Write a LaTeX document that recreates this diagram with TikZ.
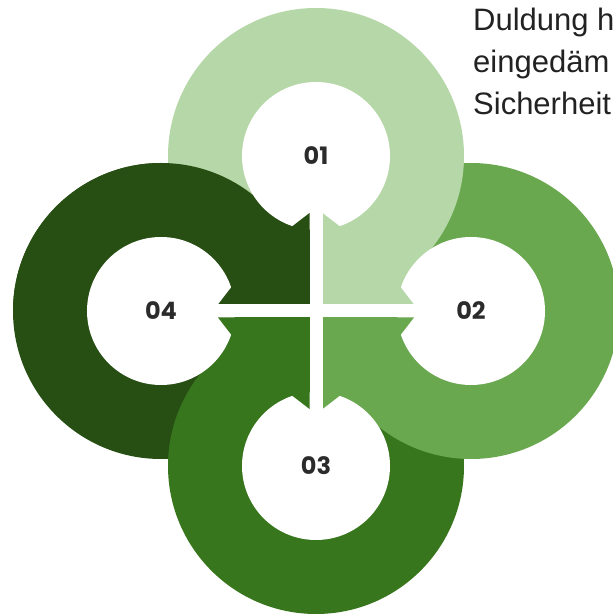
\documentclass[tikz,border=0pt]{standalone}
\usepackage{fontspec}
\setmainfont{Liberation Sans}
\newfontfamily\numfont{Poppins}
\definecolor{ringA}{HTML}{B6D7A8}
\definecolor{ringB}{HTML}{6AA84F}
\definecolor{ringC}{HTML}{38761D}
\definecolor{ringD}{HTML}{274E13}
\definecolor{labelgray}{HTML}{2B2B2B}
\definecolor{notegray}{HTML}{222222}

\begin{document}
\begin{tikzpicture}[x=1pt,y=1pt,
  num/.style={font=\numfont\bfseries\fontsize{24}{24}\selectfont,
    text=labelgray, inner sep=0pt},
  note/.style={font=\fontsize{31}{42}\selectfont, text=notegray,
    align=left, anchor=north west, inner sep=0pt}]
\useasboundingbox (0,0) rectangle (613,616);
\clip (0,0) rectangle (613,616);

\begin{scope}[shift={(316,305)}]
  \def\R{148}  % outer ring radius
  \def\r{74}   % inner (white) radius
  \def\g{6.5}  % half width of the white cross
  \coordinate (c1) at (0,155);
  \coordinate (c2) at (155,0);
  \coordinate (c3) at (0,-155);
  \coordinate (c4) at (-155,0);

  % rings, back to front: 01 over 02 over 03 over 04
  \fill[ringD] (c4) circle (\R);
  \fill[ringC] (c3) circle (\R);
  \fill[ringB] (c2) circle (\R);
  \fill[ringA] (c1) circle (\R);
  % ring 04 lies over ring 01 in the upper half
  \begin{scope}
    \clip (-320,0) rectangle (0,320);
    \fill[ringD] (c4) circle (\R);
  \end{scope}

  % the four arrow ends meeting in the middle
  \fill[ringA] (\g,\g) rectangle (100,100);
  \fill[ringB] (\g,-\g) rectangle (100,-100);
  \fill[ringC] (-\g,-\g) rectangle (-100,-100);
  \fill[ringD] (-\g,\g) rectangle (-100,100);

  % white centres
  \foreach \c in {c1,c2,c3,c4} \fill[white] (\c) circle (\r);

  % barbs of each arrow end, pointing into the neighbouring centres
  \foreach \sx/\sy/\col in {1/1/ringA, 1/-1/ringB, -1/-1/ringC, -1/1/ringD}{
    \begin{scope}[xscale=\sx, yscale=\sy]
      \fill[\col] (\g,60) -- (\g,98) -- (24,84.5) -- (24,60) -- cycle;
      \fill[\col] (60,\g) -- (98,\g) -- (84.5,24) -- (60,24) -- cycle;
    \end{scope}
  }

  % white cross
  \fill[white] (-\g,-110) rectangle (\g,110);
  \fill[white] (-110,-\g) rectangle (110,\g);

  % step numbers
  \node[num] (n1) at (c1) {01};
  \node[num] (n2) at (c2) {02};
  \node[num] (n3) at (c3) {03};
  \node[num] (n4) at (c4) {04};

  % text block at the top right
  \node[note] (note) at (157,303) {Duldung h\\eingedäm\\Sicherheit};
\end{scope}
\end{tikzpicture}
\end{document}
